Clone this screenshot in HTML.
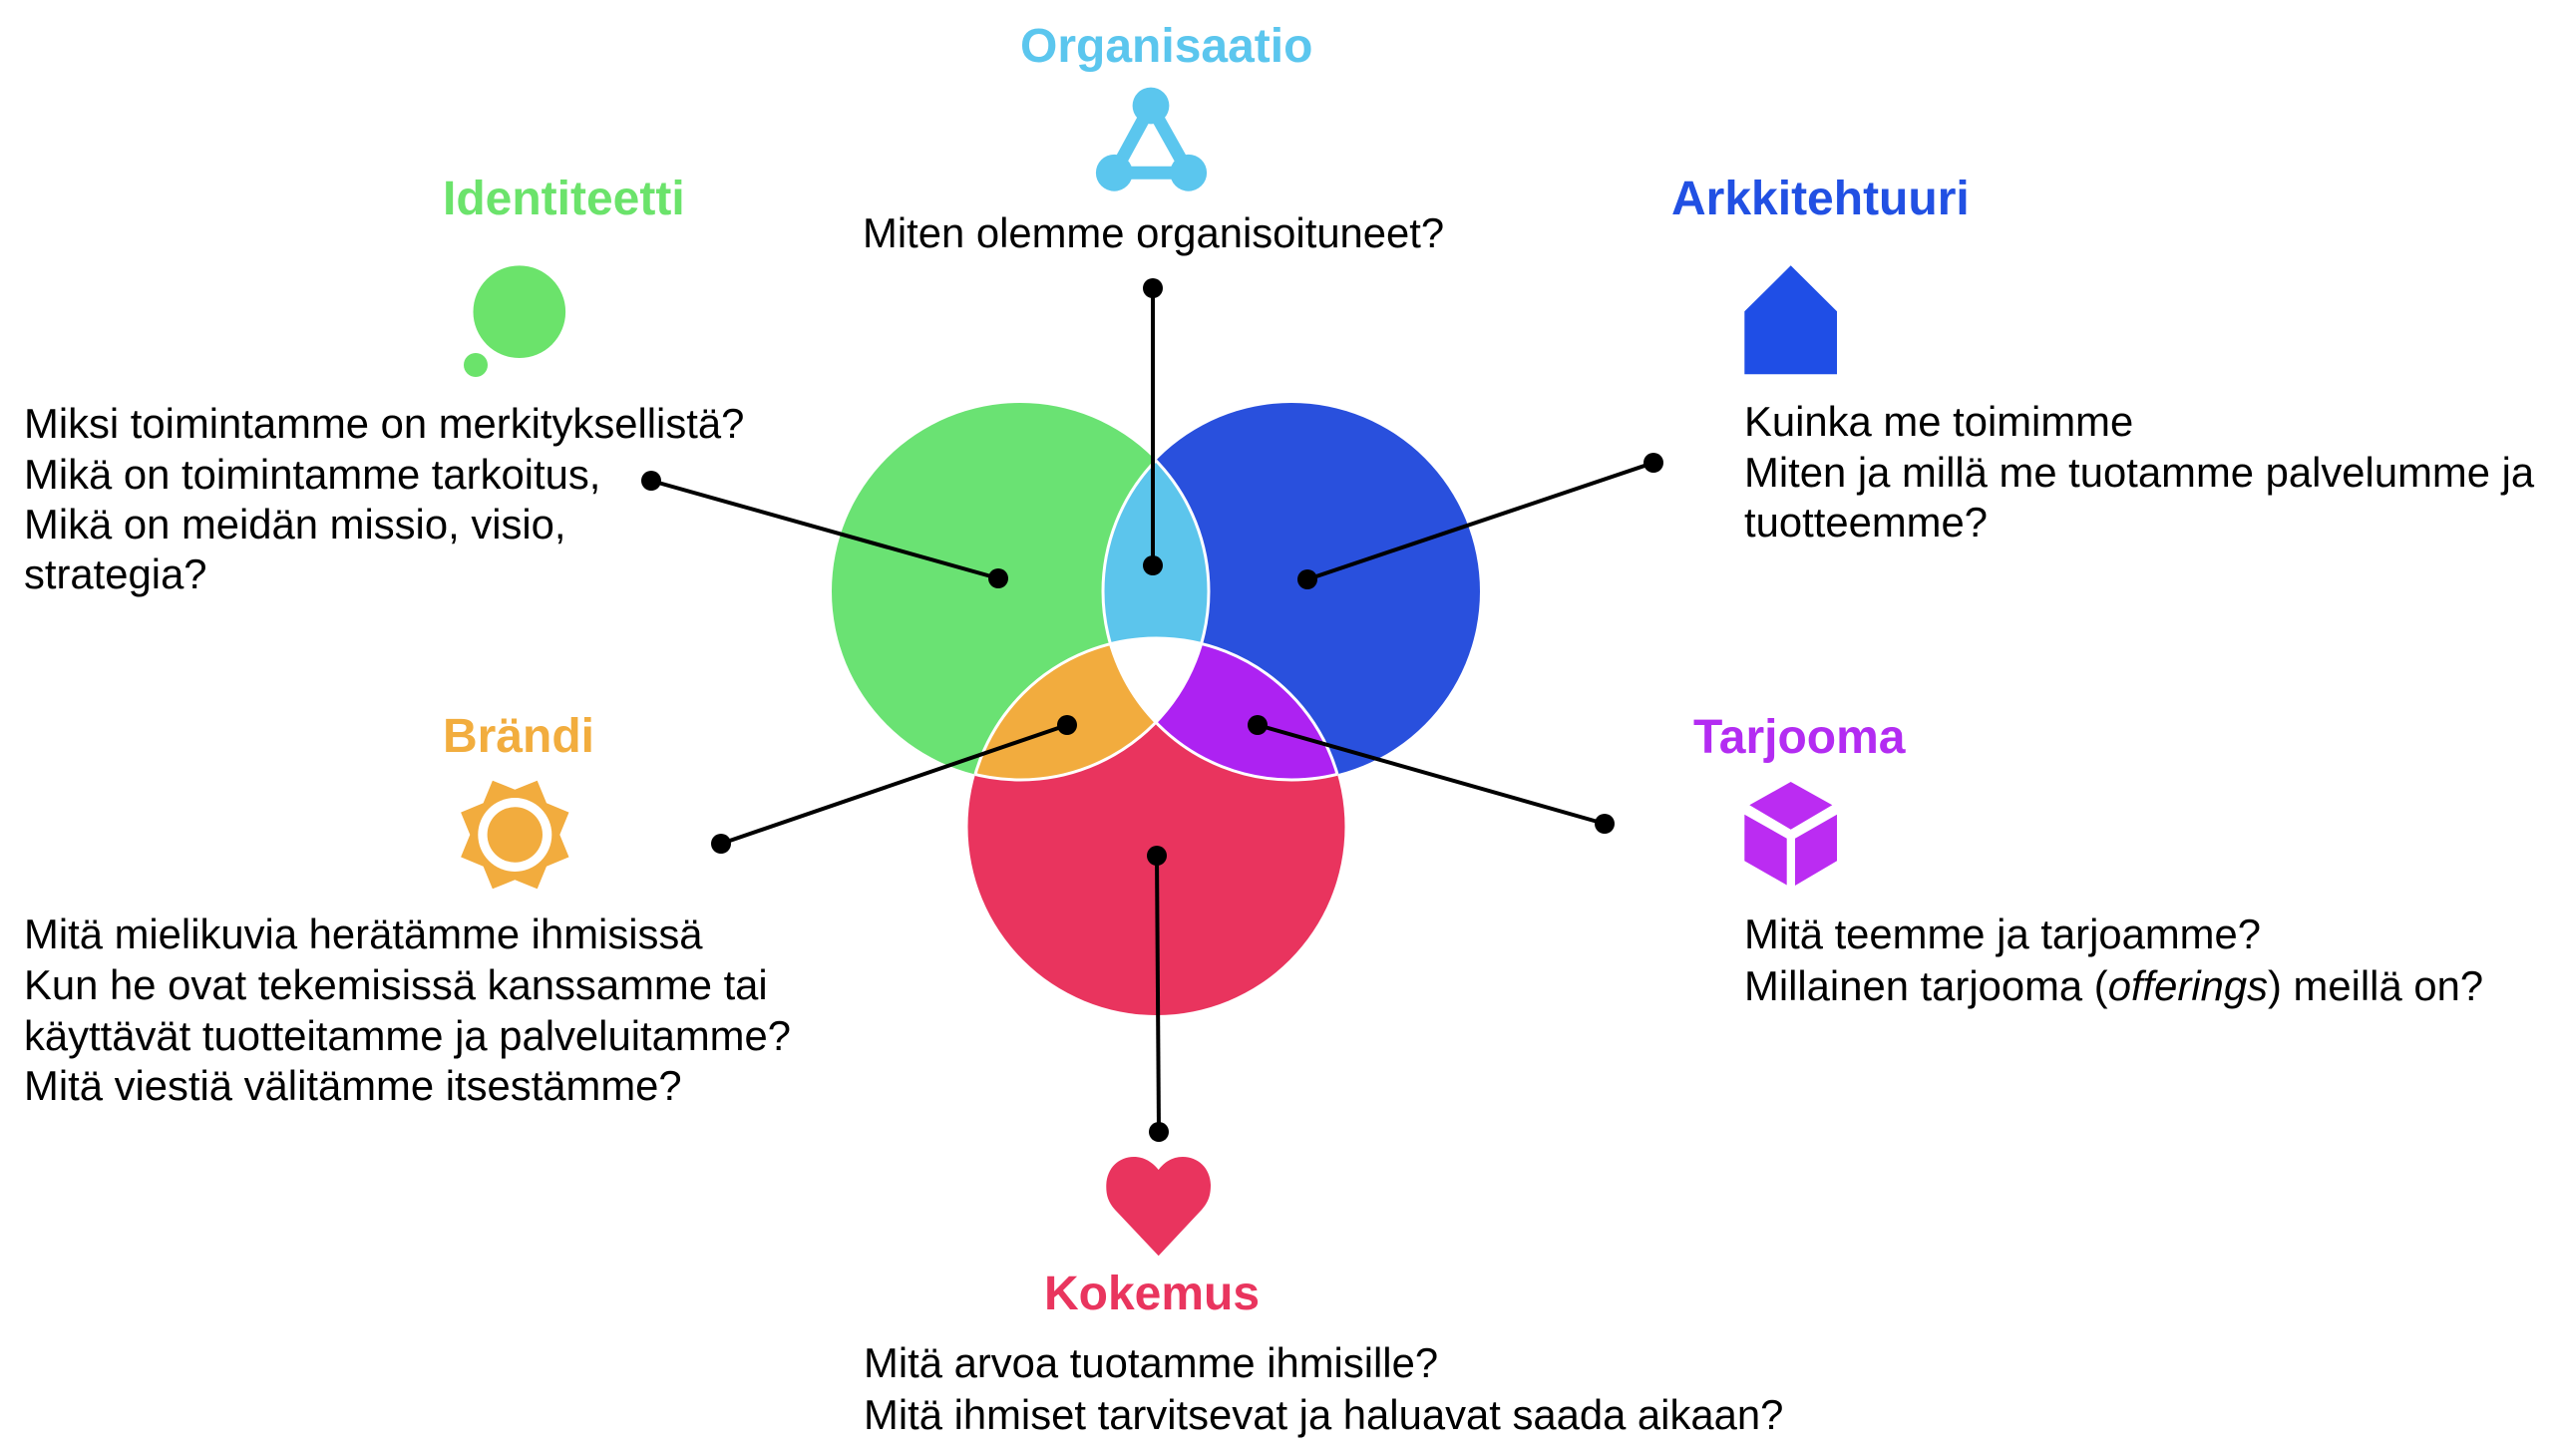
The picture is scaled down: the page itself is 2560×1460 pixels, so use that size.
<!DOCTYPE html>
<html>
<head>
<meta charset="utf-8">
<style>
  html, body { margin: 0; padding: 0; background: #ffffff; }
  body { width: 2560px; height: 1460px; overflow: hidden; }
  svg { display: block; }
  .t { font-family: "Liberation Sans", Arial, sans-serif; font-weight: bold; font-size: 48px; }
  .b { font-family: "Liberation Sans", Arial, sans-serif; font-size: 41.8px; fill: #000; }
</style>
</head>
<body>
<svg width="2560" height="1460" viewBox="0 0 2560 1460" xmlns="http://www.w3.org/2000/svg">
  <defs>
    <clipPath id="cG"><circle cx="1023" cy="593" r="189"/></clipPath>
    <clipPath id="cB"><circle cx="1295" cy="593" r="189"/></clipPath>
    <clipPath id="cR"><circle cx="1159.5" cy="829" r="189"/></clipPath>
    <clipPath id="cBR"><circle cx="1295" cy="593" r="189"/><circle cx="1159.5" cy="829" r="189"/></clipPath>
    <clipPath id="cGR"><circle cx="1023" cy="593" r="189"/><circle cx="1159.5" cy="829" r="189"/></clipPath>
    <clipPath id="cGB"><circle cx="1023" cy="593" r="189"/><circle cx="1295" cy="593" r="189"/></clipPath>
  </defs>

  <!-- Venn circles -->
  <circle cx="1023" cy="593" r="189" fill="#6ae273"/>
  <circle cx="1295" cy="593" r="189" fill="#2950dd"/>
  <circle cx="1159.5" cy="829" r="189" fill="#e9345e"/>
  <!-- pairwise overlaps -->
  <g clip-path="url(#cG)"><circle cx="1295" cy="593" r="189" fill="#5cc5ec"/></g>
  <g clip-path="url(#cG)"><circle cx="1159.5" cy="829" r="189" fill="#f2ac3e"/></g>
  <g clip-path="url(#cB)"><circle cx="1159.5" cy="829" r="189" fill="#ad22f2"/></g>
  <!-- triple overlap -->
  <g clip-path="url(#cG)"><g clip-path="url(#cB)"><circle cx="1159.5" cy="829" r="189" fill="#ffffff"/></g></g>
  <!-- white separator strokes -->
  <g clip-path="url(#cBR)"><circle cx="1023" cy="593" r="189" fill="none" stroke="#fff" stroke-width="3"/></g>
  <g clip-path="url(#cGR)"><circle cx="1295" cy="593" r="189" fill="none" stroke="#fff" stroke-width="3"/></g>
  <g clip-path="url(#cGB)"><circle cx="1159.5" cy="829" r="189" fill="none" stroke="#fff" stroke-width="3"/></g>

  <!-- connectors -->
  <g stroke="#000" stroke-width="4" fill="none">
    <line x1="1156" y1="289" x2="1156" y2="567"/>
    <line x1="653" y1="482" x2="1001" y2="580"/>
    <line x1="1658" y1="464" x2="1311" y2="581"/>
    <line x1="723" y1="846" x2="1070" y2="727"/>
    <line x1="1609" y1="826" x2="1261" y2="727"/>
    <line x1="1160" y1="858" x2="1162" y2="1135"/>
  </g>
  <g fill="#000">
    <circle cx="1156" cy="289" r="10"/>
    <circle cx="1156" cy="567" r="10"/>
    <circle cx="653" cy="482" r="10"/>
    <circle cx="1001" cy="580" r="10"/>
    <circle cx="1658" cy="464" r="10"/>
    <circle cx="1311" cy="581" r="10"/>
    <circle cx="723" cy="846" r="10"/>
    <circle cx="1070" cy="727" r="10"/>
    <circle cx="1609" cy="826" r="10"/>
    <circle cx="1261" cy="727" r="10"/>
    <circle cx="1160" cy="858" r="10"/>
    <circle cx="1162" cy="1135" r="10"/>
  </g>

  <!-- Organisaatio -->
  <text class="t" x="1023" y="62" fill="#5bc6ee">Organisaatio</text>
  <g>
    <polygon points="1154,106 1117.3,173.3 1191.7,173.3" fill="none" stroke="#5bc6ee" stroke-width="13" stroke-linejoin="round"/>
    <circle cx="1154" cy="106" r="18.4" fill="#5bc6ee"/>
    <circle cx="1117.3" cy="173.3" r="18.4" fill="#5bc6ee"/>
    <circle cx="1191.7" cy="173.3" r="18.4" fill="#5bc6ee"/>
  </g>
  <text class="b" x="865" y="248">Miten olemme organisoituneet?</text>

  <!-- Identiteetti -->
  <text class="t" x="444" y="215" fill="#6be36b">Identiteetti</text>
  <circle cx="520.8" cy="312.7" r="46.3" fill="#6be36b"/>
  <circle cx="477" cy="366" r="12" fill="#6be36b"/>
  <text class="b" x="24" y="439">Miksi toimintamme on merkityksellistä?</text>
  <text class="b" x="24" y="490">Mikä on toimintamme tarkoitus,</text>
  <text class="b" x="24" y="540">Mikä on meidän missio, visio,</text>
  <text class="b" x="24" y="590">strategia?</text>

  <!-- Arkkitehtuuri -->
  <text class="t" x="1676" y="215" fill="#2150e3">Arkkitehtuuri</text>
  <polygon points="1749.3,375.3 1749.3,312.3 1795.7,266.3 1842,312.3 1842,375.3" fill="#1f4ee6"/>
  <text class="b" x="1749" y="437">Kuinka me toimimme</text>
  <text class="b" x="1749" y="488">Miten ja millä me tuotamme palvelumme ja</text>
  <text class="b" x="1749" y="538">tuotteemme?</text>

  <!-- Brändi -->
  <text class="t" x="444" y="754" fill="#f2ad3e">Brändi</text>
  <polygon fill="#f2ac3e" points="
    516.3,791.7 538.7,782.7 548.0,805.3 570.5,814.6 561.3,837.0 570.5,859.4 548.0,868.7 538.7,891.3
    516.3,882.3 493.9,891.3 484.6,868.7 462.1,859.4 471.3,837.0 462.1,814.6 484.6,805.3 493.9,782.7"/>
  <circle cx="516.3" cy="837" r="37" fill="#ffffff"/>
  <circle cx="516.3" cy="837" r="27.7" fill="#f2ac3e"/>
  <text class="b" x="24" y="951">Mitä mielikuvia herätämme ihmisissä</text>
  <text class="b" x="24" y="1002">Kun he ovat tekemisissä kanssamme tai</text>
  <text class="b" x="24" y="1053">käyttävät tuotteitamme ja palveluitamme?</text>
  <text class="b" x="24" y="1103">Mitä viestiä välitämme itsestämme?</text>

  <!-- Tarjooma -->
  <text class="t" x="1698" y="755" fill="#b32cf2">Tarjooma</text>
  <g fill="#bb2cf2">
    <polygon points="1795.7,784 1837.3,807.3 1795.7,831.7 1754.3,807.3"/>
    <polygon points="1749.3,816.7 1791.7,840.7 1791.7,887.5 1749.3,863.3"/>
    <polygon points="1800,840.7 1842,816.7 1842,863.3 1800,888"/>
  </g>
  <text class="b" x="1749" y="951">Mitä teemme ja tarjoamme?</text>
  <text class="b" x="1749" y="1003">Millainen tarjooma (<tspan font-style="italic">offerings</tspan>) meillä on?</text>

  <!-- Kokemus -->
  <path fill="#e9345e" d="M1161.7,1259.3 L1118,1213 C1111,1205 1109,1198 1109.3,1188 C1110,1171 1122,1160 1137,1160 C1148,1160 1156,1166 1161.7,1173 C1167,1166 1175,1160 1186,1160 C1201,1160 1213.5,1171 1214,1188 C1214,1198 1212,1205 1205,1213 Z"/>
  <text class="t" x="1047" y="1313" fill="#e9355e">Kokemus</text>
  <text class="b" x="866" y="1381">Mitä arvoa tuotamme ihmisille?</text>
  <text class="b" x="866" y="1433">Mitä ihmiset tarvitsevat ja haluavat saada aikaan?</text>
</svg>
</body>
</html>
